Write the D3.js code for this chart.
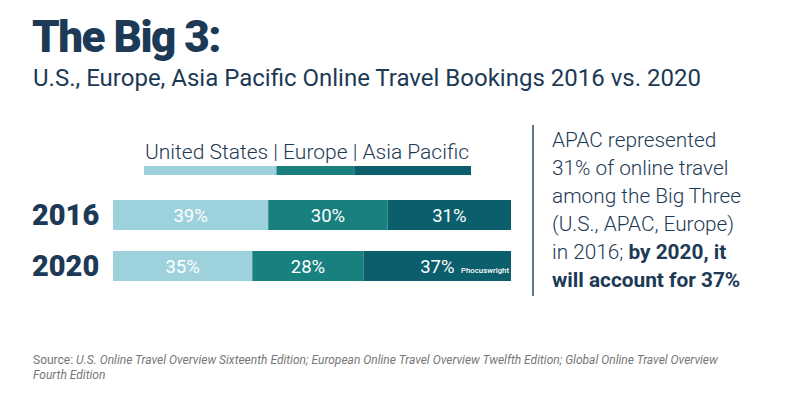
<!DOCTYPE html>
<html><head><meta charset="utf-8">
<script src="https://cdn.jsdelivr.net/npm/d3@7"></script>
<style>body{margin:0;background:#fff;} text{font-family:Roboto, sans-serif;}</style>
</head><body>
<svg id="c" width="786" height="397"></svg>
<script>
const regions = ["United States", "Europe", "Asia Pacific"];
const years = ["2016", "2020"];
const values2016 = [39, 30, 31];
const values2020 = [35, 28, 37];
const colors = ["#9dd1dc", "#188180", "#0b5e6b"];
const noteLines = [
  [{t:"APAC represented", b:false}],
  [{t:"31% of online travel", b:false}],
  [{t:"among the Big Three", b:false}],
  [{t:"(U.S., APAC, Europe)", b:false}],
  [{t:"in 2016; ", b:false},{t:"by 2020, it", b:true}],
  [{t:"will account for 37%", b:true}]
];

const svg = d3.select("#c");
const navy = "#1c3a56";

svg.append("text").attr("x",32).attr("y",52).attr("font-size",44).attr("font-weight",900)
  .attr("letter-spacing",-1.5).attr("fill",navy).text("The Big 3:");
svg.append("text").attr("x",33).attr("y",86).attr("font-size",24)
  .attr("fill",navy).text("U.S., Europe, Asia Pacific Online Travel Bookings 2016 vs. 2020");

// legend
svg.append("text").attr("x",145).attr("y",159).attr("font-size",21).attr("font-weight",300)
  .attr("fill",navy).text(regions.join(" | "));
const lx = d3.scaleLinear().domain([0,100]).range([144,471]);
const legendStops = [0, 40.5, 64.5, 100];
regions.forEach((r,i)=>{
  svg.append("rect").attr("x",lx(legendStops[i])).attr("y",166)
    .attr("width",lx(legendStops[i+1])-lx(legendStops[i])).attr("height",9).attr("fill",colors[i]);
});

// bars
const data = [values2016, values2020];
const y = d3.scaleBand().domain(years).range([200,281]).paddingInner(21/51).paddingOuter(0);
const x = d3.scaleLinear().domain([0,100]).range([113,511]);
years.forEach((yr,j)=>{
  let acc = 0;
  const g = svg.append("g");
  data[j].forEach((v,i)=>{
    g.append("rect").attr("x",x(acc)).attr("y",y(yr)).attr("width",x(acc+v)-x(acc))
      .attr("height",y.bandwidth()).attr("fill",colors[i]);
    g.append("text").attr("x",(x(acc)+x(acc+v))/2).attr("y",y(yr)+y.bandwidth()/2+6.5)
      .attr("text-anchor","middle").attr("font-size",18.5).attr("fill","#fff").text(v+"%");
    acc += v;
  });
  svg.append("text").attr("x",32).attr("y",y(yr)+y.bandwidth()/2+10).attr("font-size",29)
    .attr("font-weight",900).attr("fill",navy).text(yr);
});
svg.append("text").attr("x",461).attr("y",y("2020")+y.bandwidth()/2+7).attr("font-size",7.8)
  .attr("font-weight",500).attr("fill","#fff").text("Phocuswright");

// divider
svg.append("line").attr("x1",533).attr("x2",533).attr("y1",125).attr("y2",296)
  .attr("stroke","#2d4a63").attr("stroke-width",1.5);

// note
noteLines.forEach((line,i)=>{
  const t = svg.append("text").attr("x",552).attr("y",147+i*28).attr("font-size",20.8).attr("fill",navy);
  line.forEach(s=>t.append("tspan").attr("font-weight",s.b?700:300).text(s.t));
});

// source
const src = svg.append("text").attr("x",33).attr("y",364).attr("font-size",12).attr("fill","#777");
src.append("tspan").text("Source: ");
src.append("tspan").attr("font-style","italic").text("U.S. Online Travel Overview Sixteenth Edition; European Online Travel Overview Twelfth Edition; Global Online Travel Overview");
svg.append("text").attr("x",33).attr("y",379).attr("font-size",12).attr("fill","#777")
  .attr("font-style","italic").text("Fourth Edition");
</script>
</body></html>
